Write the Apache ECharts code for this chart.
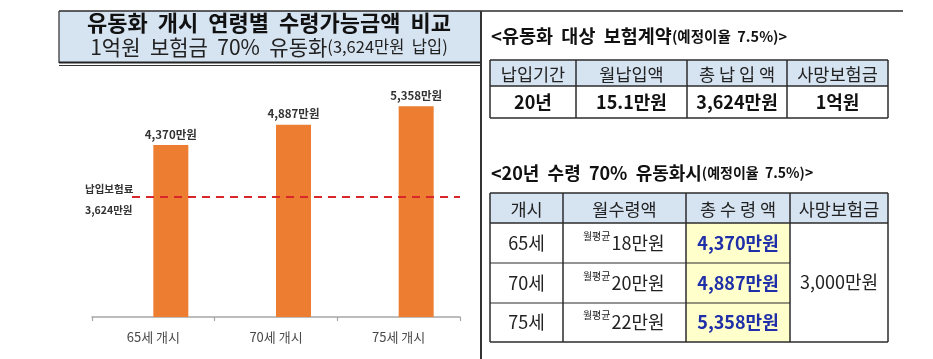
<!DOCTYPE html>
<html><head><meta charset="utf-8">
<script src="https://cdn.jsdelivr.net/npm/echarts@6/dist/echarts.min.js"></script>
<style>html,body{margin:0;padding:0;background:#fff}#c{width:933px;height:359px}</style>
</head><body><div id="c"></div>
<script>
const FONT = '"Noto Sans CJK KR", "Noto Sans", sans-serif';
// ---- data ----
const categories = ['65세 개시', '70세 개시', '75세 개시'];
const totalPayout = [4370, 4887, 5358];          // 만원
const emptySlot = ['-', '-', '-'];               // empty first bar of each cluster (bars sit right of the label)
const paidPremium = 3624;                        // 만원 (label of dashed line)
const paidLineLevel = 3050;                      // level where the dashed line is drawn in the picture
const paidLabel = '납입보험료';
const titleMain = '유동화  개시  연령별  수령가능금액  비교';
const titleSub = '1억원  보험금  70%  유동화';
const titleSubParen = '(3,624만원  납입)';
const contractTitle = '<유동화  대상  보험계약';
const rateNote = '(예정이율  7.5%)>';
const contractHeaders = ['납입기간', '월납입액', '총 납 입 액', '사망보험금'];
const contractValues = ['20년', '15.1만원', '3,624만원', '1억원'];
const payoutTitle = '<20년  수령  70%  유동화시';
const payoutHeaders = ['개시', '월수령액', '총 수 령 액', '사망보험금'];
const startAges = ['65세', '70세', '75세'];
const monthlyAvg = [18, 20, 22];                 // 만원
const avgTag = '월평균';
const deathBenefit = '3,000만원';

const fmt = n => String(n).replace(/\B(?=(\d{3})+(?!\d))/g, ',');

const chart = echarts.init(document.getElementById('c'));

const g = [];
const LINE = '#2b2b2b';
function rect(x, y, w, h, fill) { g.push({type: 'rect', silent: true, shape: {x, y, width: w, height: h}, style: {fill}}); }
function line(x1, y1, x2, y2, w, c) { g.push({type: 'line', silent: true, shape: {x1, y1, x2, y2}, style: {stroke: c || LINE, lineWidth: w || 1.5}}); }
function text(x, y, str, o) {
  o = o || {};
  g.push({type: 'text', silent: true, x, y, style: {
    text: str, fill: o.color || '#111', fontSize: o.size || 18, fontWeight: o.weight || 'normal',
    fontFamily: FONT, align: o.align || 'center', verticalAlign: o.va || 'middle', rich: o.rich
  }});
}

// ---- title box (left) ----
rect(59, 11, 422, 51, '#d6e3f1');
line(59, 11, 903, 11, 1.5);
line(59, 11, 59, 63, 1.2);
line(59, 62.5, 481, 62.5, 2, '#222');
line(59, 65.5, 481, 65.5, 1, '#333');
line(481, 11, 481, 359, 2, '#333');
text(269, 23, titleMain, {size: 22, weight: 'bold', color: '#111'});
text(269, 47, '{a|' + titleSub + '}{b|' + titleSubParen + '}', {rich: {
  a: {fontSize: 21, fontFamily: FONT, fill: '#222'},
  b: {fontSize: 16.5, fontFamily: FONT, fill: '#222'}
}});

// ---- table 1 ----
const titleRich = {
  a: {fontSize: 18.5, fontWeight: 'bold', fontFamily: FONT, fill: '#111'},
  b: {fontSize: 14.5, fontWeight: 'bold', fontFamily: FONT, fill: '#111'}
};
text(491, 36, '{a|' + contractTitle + '}{b|' + rateNote + '}', {align: 'left', rich: titleRich});
const c1 = [490, 576, 687, 787, 888], r1 = [60, 86, 118];
rect(c1[0], r1[0], c1[4] - c1[0], r1[1] - r1[0], '#d6e3f1');
contractHeaders.forEach((h, i) => text((c1[i] + c1[i + 1]) / 2, (r1[0] + r1[1]) / 2 + 1, h, {size: 17.5, color: '#222'}));
contractValues.forEach((v, i) => text((c1[i] + c1[i + 1]) / 2, (r1[1] + r1[2]) / 2, v, {size: 18, weight: 'bold', color: '#111'}));
r1.forEach(y => line(c1[0], y, c1[4], y, 1.5));
c1.forEach(x => line(x, r1[0], x, r1[2], 1.5));

// ---- table 2 ----
text(491, 173, '{a|' + payoutTitle + '}{b|' + rateNote + '}', {align: 'left', rich: {
  a: {fontSize: 18, fontWeight: 'bold', fontFamily: FONT, fill: '#111'},
  b: {fontSize: 14, fontWeight: 'bold', fontFamily: FONT, fill: '#111'}
}});
const c2 = [490, 563, 686, 790, 888], r2 = [193, 223, 263, 303, 342];
rect(c2[0], r2[0], c2[4] - c2[0], r2[1] - r2[0], '#d6e3f1');
rect(c2[2], r2[1], c2[3] - c2[2], r2[4] - r2[1], '#ffffcc');
payoutHeaders.forEach((h, i) => text((c2[i] + c2[i + 1]) / 2, (r2[0] + r2[1]) / 2 + 1, h, {size: 17.5, color: '#222'}));
startAges.forEach((a, j) => {
  const cy = (r2[j + 1] + r2[j + 2]) / 2;
  text((c2[0] + c2[1]) / 2, cy, a, {size: 18, color: '#222'});
  const mid = (c2[1] + c2[2]) / 2 - 14;
  text(mid, cy - 7, avgTag, {size: 10, color: '#222', align: 'right'});
  text(mid + 1, cy, monthlyAvg[j] + '만원', {size: 18, color: '#222', align: 'left'});
  text((c2[2] + c2[3]) / 2, cy, fmt(totalPayout[j]) + '만원', {size: 18, weight: 'bold', color: '#1f2fa8'});
});
text((c2[3] + c2[4]) / 2, (r2[1] + r2[4]) / 2, deathBenefit, {size: 18, color: '#222'});
[r2[0], r2[1], r2[4]].forEach(y => line(c2[0], y, c2[4], y, 1.5));
[r2[2], r2[3]].forEach(y => line(c2[0], y, c2[3], y, 1.2));
c2.forEach(x => line(x, r2[0], x, r2[4], 1.5));

const option = {
  animation: false,
  textStyle: {fontFamily: FONT},
  grid: [
    {left: 92, width: 368, top: 81, height: 236},
    {left: 132, width: 328, top: 81, height: 236}
  ],
  xAxis: [
    {type: 'category', gridIndex: 0, data: categories,
     axisLine: {lineStyle: {color: '#a6a6a6', width: 1.5}},
     axisTick: {show: true, length: 4, lineStyle: {color: '#a6a6a6', width: 1.2}},
     axisLabel: {fontSize: 13, color: '#4a4a4a', margin: 14, fontFamily: FONT}},
    {type: 'value', gridIndex: 1, min: 0, max: 1, show: false}
  ],
  yAxis: [
    {type: 'value', gridIndex: 0, min: 0, max: 6000, show: false, splitLine: {show: false}},
    {type: 'value', gridIndex: 1, min: 0, max: 6000, show: false, splitLine: {show: false}}
  ],
  series: [
    {type: 'bar', xAxisIndex: 0, yAxisIndex: 0, data: emptySlot, barWidth: 35, barGap: '0%', silent: true},
    {type: 'bar', xAxisIndex: 0, yAxisIndex: 0, data: totalPayout, barWidth: 35, barGap: '0%',
     itemStyle: {color: '#ed7d31'},
     label: {show: true, position: 'top', distance: 5, fontSize: 11.5, fontWeight: 'bold', color: '#333',
             fontFamily: FONT, formatter: p => fmt(p.value) + '만원'}},
    {type: 'line', xAxisIndex: 1, yAxisIndex: 1, data: [[0, paidLineLevel], [1, paidLineLevel]],
     symbol: 'none', silent: true, z: 5,
     lineStyle: {color: '#d9262b', width: 2, type: [8, 6]}}
  ],
  graphic: g
};
chart.setOption(option);

const p = chart.convertToPixel({xAxisIndex: 1, yAxisIndex: 1}, [0, paidLineLevel]);
g.push({type: 'text', silent: true, x: 85, y: p[1] - 8, style: {text: paidLabel, fontSize: 10.5, fontWeight: 'bold',
  fontFamily: FONT, fill: '#333', align: 'left', verticalAlign: 'middle'}});
g.push({type: 'text', silent: true, x: 85, y: p[1] + 13, style: {text: fmt(paidPremium) + '만원', fontSize: 10.5, fontWeight: 'bold',
  fontFamily: FONT, fill: '#333', align: 'left', verticalAlign: 'middle'}});
chart.setOption({graphic: g});
</script></body></html>
